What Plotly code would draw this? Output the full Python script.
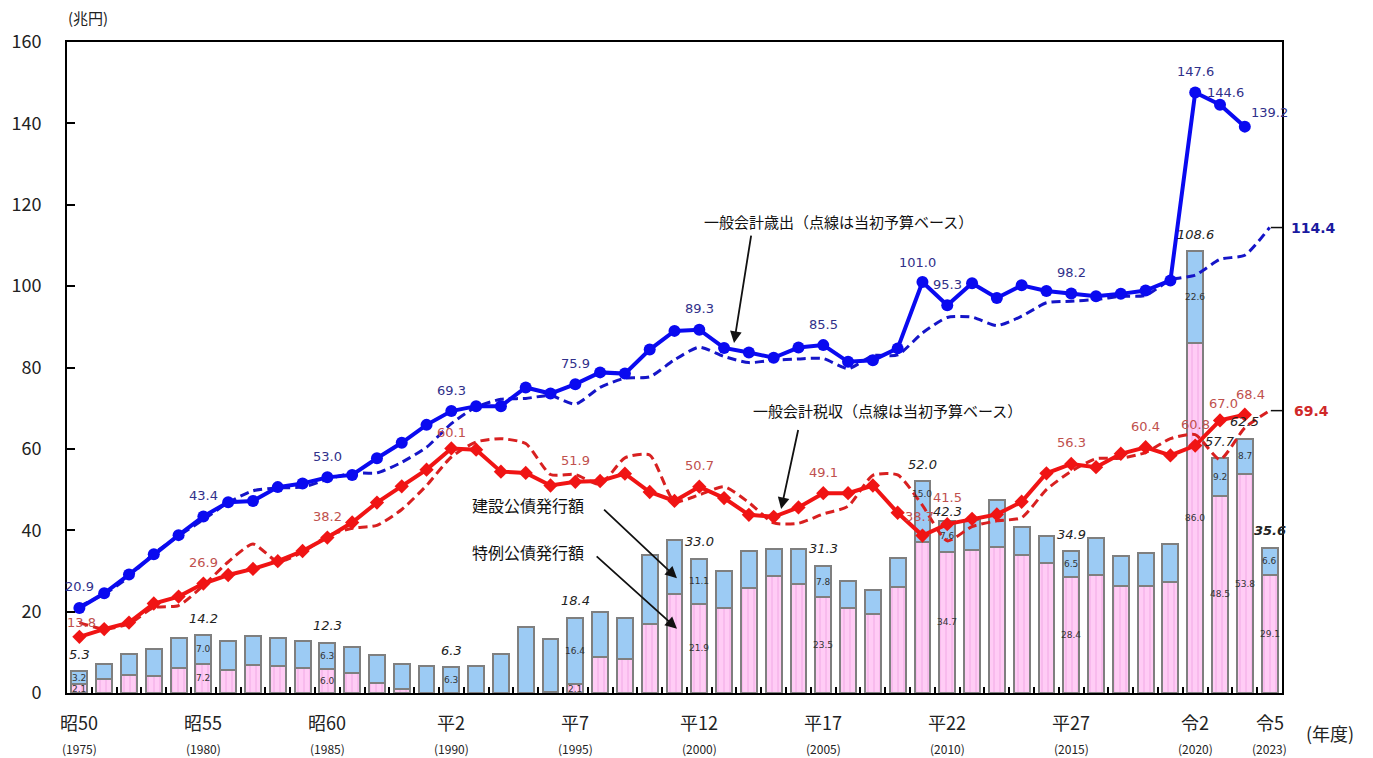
import plotly.graph_objects as go

# ---------------- data ----------------
years = list(range(1975, 2024))
years_act = list(range(1975, 2023))

# 一般会計歳出（決算）
exp_actual = [20.9, 24.5, 29.1, 34.1, 38.8, 43.4, 46.9, 47.2, 50.6, 51.5,
              53.0, 53.6, 57.7, 61.5, 65.9, 69.3, 70.5, 70.5, 75.1, 73.6,
              75.9, 78.8, 78.5, 84.4, 89.0, 89.3, 84.8, 83.7, 82.4, 84.9,
              85.5, 81.4, 81.8, 84.7, 101.0, 95.3, 100.7, 97.1, 100.2, 98.8,
              98.2, 97.5, 98.1, 98.9, 101.4, 147.6, 144.6, 139.2]
# 一般会計歳出（当初予算）
exp_initial = [21.3, 24.3, 28.5, 34.3, 38.6, 42.6, 46.8, 49.7, 50.4, 50.6,
               52.5, 54.1, 54.1, 56.7, 60.4, 66.2, 70.3, 72.2, 72.4, 73.1,
               71.0, 75.1, 77.4, 77.7, 81.9, 85.0, 82.7, 81.2, 81.8, 82.1,
               82.2, 79.7, 82.9, 83.1, 88.5, 92.3, 92.4, 90.3, 92.6, 95.9,
               96.3, 96.7, 97.5, 97.7, 101.5, 102.7, 106.6, 107.6, 114.4]
# 一般会計税収（決算）
tax_actual = [13.8, 15.7, 17.3, 22.0, 23.7, 26.9, 29.0, 30.5, 32.4, 34.9,
              38.2, 41.9, 46.8, 50.8, 54.9, 60.1, 59.8, 54.4, 54.1, 51.0,
              51.9, 52.1, 53.9, 49.4, 47.2, 50.7, 47.9, 43.8, 43.3, 45.6,
              49.1, 49.1, 51.0, 44.3, 38.7, 41.5, 42.8, 43.9, 47.0, 54.0,
              56.3, 55.5, 58.8, 60.4, 58.4, 60.8, 67.0, 68.4]
# 一般会計税収（当初予算）
tax_initial = [17.3, 15.7, 17.0, 21.0, 21.5, 26.4, 32.2, 36.6, 32.3, 34.6,
               38.6, 40.5, 41.2, 45.1, 51.0, 58.0, 61.7, 62.5, 61.3, 53.7,
               53.7, 51.3, 57.8, 58.5, 47.1, 48.7, 50.7, 46.8, 41.8, 41.7,
               44.0, 45.9, 53.5, 53.6, 46.1, 37.4, 40.9, 42.3, 43.1, 50.0,
               54.5, 57.6, 57.7, 59.1, 62.5, 63.5, 57.4, 65.2, 69.4]
# 特例公債発行額
special_bonds = [2.1, 3.5, 4.5, 4.1, 6.1, 7.2, 5.7, 6.8, 6.6, 6.2,
                 6.0, 5.0, 2.5, 1.0, 0.0, 0.0, 0.0, 0.0, 0.0, 0.3,
                 2.1, 8.9, 8.4, 16.9, 24.3, 21.9, 20.9, 25.8, 28.7, 26.8,
                 23.5, 21.0, 19.3, 26.1, 37.0, 34.7, 35.2, 36.0, 33.8, 31.9,
                 28.4, 29.1, 26.2, 26.2, 27.4, 86.0, 48.5, 53.8, 29.1]
# 建設公債発行額
construction_bonds = [3.2, 3.7, 5.1, 6.6, 7.3, 7.0, 7.2, 7.2, 6.9, 6.6,
                      6.3, 6.3, 6.9, 6.2, 6.6, 6.3, 6.7, 9.5, 16.2, 12.9,
                      16.4, 11.0, 10.1, 17.1, 13.2, 11.1, 9.1, 9.2, 6.6, 8.7,
                      7.8, 6.5, 6.1, 7.1, 15.0, 7.6, 7.3, 11.5, 7.1, 6.6,
                      6.5, 8.9, 7.4, 8.2, 9.2, 22.6, 9.2, 8.7, 6.6]
# 公債発行額合計（ラベル）
total_label_years = [1975, 1980, 1985, 1990, 1995, 2000, 2005, 2009, 2010, 2015, 2020, 2021, 2022, 2023]
total_label_text = ["5.3", "14.2", "12.3", "6.3", "18.4", "33.0", "31.3", "52.0", "42.3", "34.9",
                    "108.6", "57.7", "62.5", "35.6"]
seg_label_years = [1975, 1980, 1985, 1990, 1995, 2000, 2005, 2009, 2010, 2015, 2020, 2021, 2022, 2023]
exp_label_years = [1975, 1980, 1985, 1990, 1995, 2000, 2005, 2009, 2010, 2015, 2020, 2021, 2022]
tax_label_years = [1975, 1980, 1985, 1990, 1995, 2000, 2005, 2009, 2010, 2015, 2018, 2020, 2021, 2022]

tick_years = [1975, 1980, 1985, 1990, 1995, 2000, 2005, 2010, 2015, 2020, 2023]
tick_era = ["昭50", "昭55", "昭60", "平2", "平7", "平12", "平17", "平22", "平27", "令2", "令5"]

# ---------------- styles ----------------
BLUE = "#0A0AF0"
BLUE_D = "#1515C8"
RED = "#F01414"
RED_D = "#D82020"
BLUE_TXT = "#30308A"
RED_TXT = "#C0504D"
NUMF = "DejaVu Sans"
JPF = "Noto Sans CJK JP"

fig = go.Figure()

# bars
fig.add_trace(go.Bar(
    x=years, y=special_bonds, width=0.64,
    marker=dict(color="#FFCCF5", line=dict(color="#7F7F7F", width=2),
                pattern=dict(shape="|", fgcolor="#E68AD6", bgcolor="#FFCCF5",
                             size=6, solidity=0.18)),
    name="特例公債発行額"))
fig.add_trace(go.Bar(
    x=years, y=construction_bonds, width=0.64,
    marker=dict(color="#9CCBF4", line=dict(color="#7F7F7F", width=2)),
    name="建設公債発行額"))

# dotted lines (initial budget)
fig.add_trace(go.Scatter(x=years, y=exp_initial, mode="lines",
                         line=dict(color=BLUE_D, width=3, dash="9px,5px", shape="spline", smoothing=0.6)))
fig.add_trace(go.Scatter(x=years, y=tax_initial, mode="lines",
                         line=dict(color=RED_D, width=3, dash="9px,5px", shape="spline", smoothing=0.6)))
# solid lines
fig.add_trace(go.Scatter(x=years_act, y=exp_actual, mode="lines+markers",
                         line=dict(color=BLUE, width=4),
                         marker=dict(symbol="circle", size=12, color=BLUE)))
fig.add_trace(go.Scatter(x=years_act, y=tax_actual, mode="lines+markers",
                         line=dict(color=RED, width=4),
                         marker=dict(symbol="diamond", size=11, color=RED)))

ann = []

# bar total labels
total_shift = {2010: 9}
for yr, t in zip(total_label_years, total_label_text):
    i = years.index(yr)
    top = special_bonds[i] + construction_bonds[i]
    bold = yr == 2023
    ann.append(dict(x=yr, y=top, text=("<b><i>%s</i></b>" if bold else "<i>%s</i>") % t,
                    showarrow=False, yshift=total_shift.get(yr, 17),
                    font=dict(family=NUMF, size=13, color="#222")))

# segment labels
for yr in seg_label_years:
    i = years.index(yr)
    s, c = special_bonds[i], construction_bonds[i]
    cy = s + c / 2 if yr != 2009 else s + c * 0.8
    ann.append(dict(x=yr, y=cy, text="%.1f" % c, showarrow=False,
                    font=dict(family=NUMF, size=9, color="#333")))
    if s > 0 and yr != 2009:
        ann.append(dict(x=yr, y=s / 2, text="%.1f" % s, showarrow=False,
                        font=dict(family=NUMF, size=9, color="#333")))

# expenditure labels
exp_shift = {2009: (-5, 20), 2021: (5, 12), 2022: (25, 14)}
for yr in exp_label_years:
    i = years_act.index(yr)
    xs, ys = exp_shift.get(yr, (0, 21))
    ann.append(dict(x=yr, y=exp_actual[i], text="%.1f" % exp_actual[i], showarrow=False,
                    xshift=xs, yshift=ys, font=dict(family=NUMF, size=13, color=BLUE_TXT)))

# tax labels
tax_shift = {1975: (2, 14), 1990: (0, 16), 2009: (-3, 19), 2010: (0, 27), 2021: (3, 17), 2022: (6, 20)}
for yr in tax_label_years:
    i = years_act.index(yr)
    xs, ys = tax_shift.get(yr, (0, 21))
    ann.append(dict(x=yr, y=tax_actual[i], text="%.1f" % tax_actual[i], showarrow=False,
                    xshift=xs, yshift=ys, font=dict(family=NUMF, size=13, color=RED_TXT)))

# right-side values
ann.append(dict(x=2023.5, y=exp_initial[-1], text="<b>%.1f</b>" % exp_initial[-1], showarrow=False,
                xanchor="left", xshift=7, font=dict(family=NUMF, size=14, color="#1A1AA0")))
ann.append(dict(x=2023.5, y=tax_initial[-1], text="<b>%.1f</b>" % tax_initial[-1], showarrow=False,
                xanchor="left", xshift=10, font=dict(family=NUMF, size=14, color="#D02828")))

# descriptive texts
ann.append(dict(x=2005.6, y=115.8, text="一般会計歳出（点線は当初予算ベース）", showarrow=False,
                font=dict(family=JPF, size=15, color="#111")))
ann.append(dict(x=2007.6, y=69.4, text="一般会計税収（点線は当初予算ベース）", showarrow=False,
                font=dict(family=JPF, size=15, color="#111")))
ann.append(dict(x=1993.1, y=46.1, text="建設公債発行額", showarrow=False,
                font=dict(family=JPF, size=16, color="#111")))
ann.append(dict(x=1993.1, y=34.6, text="特例公債発行額", showarrow=False,
                font=dict(family=JPF, size=16, color="#111")))

# arrows
for (hx, hy, tx, ty) in [(2001.4, 86.0, 2002.1, 112.8),
                         (2003.3, 45.2, 2004.0, 65.0),
                         (1999.1, 28.2, 1996.1, 45.4),
                         (1999.1, 15.8, 1995.8, 33.9)]:
    ann.append(dict(x=hx, y=hy, ax=tx, ay=ty, axref="x", ayref="y", xref="x", yref="y",
                    text="", showarrow=True, arrowhead=2, arrowsize=1.3, arrowwidth=1.8,
                    arrowcolor="#111"))

# x labels
for yr, era in zip(tick_years, tick_era):
    ann.append(dict(x=yr, y=-0.0445, xref="x", yref="paper", text=era, showarrow=False,
                    xanchor="center", yanchor="middle", font=dict(family=JPF, size=18, color="#222")))
    ann.append(dict(x=yr, y=-0.0845, xref="x", yref="paper", text="(%d)" % yr, showarrow=False,
                    xanchor="center", yanchor="middle", font=dict(family=JPF, size=12, color="#222")))
ann.append(dict(x=1.0395, y=-0.0614, xref="paper", yref="paper", text="(年度)", showarrow=False,
                xanchor="center", yanchor="middle", font=dict(family=JPF, size=18, color="#222")))
ann.append(dict(x=0.0173, y=1.0369, xref="paper", yref="paper", text="(兆円)", showarrow=False,
                xanchor="center", yanchor="middle", font=dict(family=JPF, size=15, color="#222")))

shapes = [
    dict(type="line", xref="x", yref="y", x0=2023.05, x1=2023.5, y0=exp_initial[-1], y1=exp_initial[-1],
         line=dict(color="#111", width=1.5)),
    dict(type="line", xref="x", yref="y", x0=2023.05, x1=2023.5, y0=tax_initial[-1], y1=tax_initial[-1],
         line=dict(color="#111", width=1.5)),
]

fig.update_layout(
    width=1373, height=758,
    margin=dict(l=67, r=91, t=42, b=65),
    paper_bgcolor="white", plot_bgcolor="white",
    barmode="stack", bargap=0.36,
    showlegend=False,
    annotations=ann, shapes=shapes,
    xaxis=dict(range=[1974.5, 2023.5], tickvals=[y + 0.5 for y in years[:-1]],
               showticklabels=False, ticks="inside", ticklen=6, tickwidth=1.5, tickcolor="#000",
               showgrid=False, zeroline=False, showline=True, linecolor="#000", linewidth=2, mirror=True),
    yaxis=dict(range=[0, 160], dtick=20, ticks="inside", ticklen=8, tickwidth=1.5, tickcolor="#000",
               tickfont=dict(family=JPF, size=18, color="#222"), ticklabelstandoff=20,
               showgrid=False, zeroline=False, showline=True, linecolor="#000", linewidth=2, mirror=True),
)

fig.write_html("out.html")
